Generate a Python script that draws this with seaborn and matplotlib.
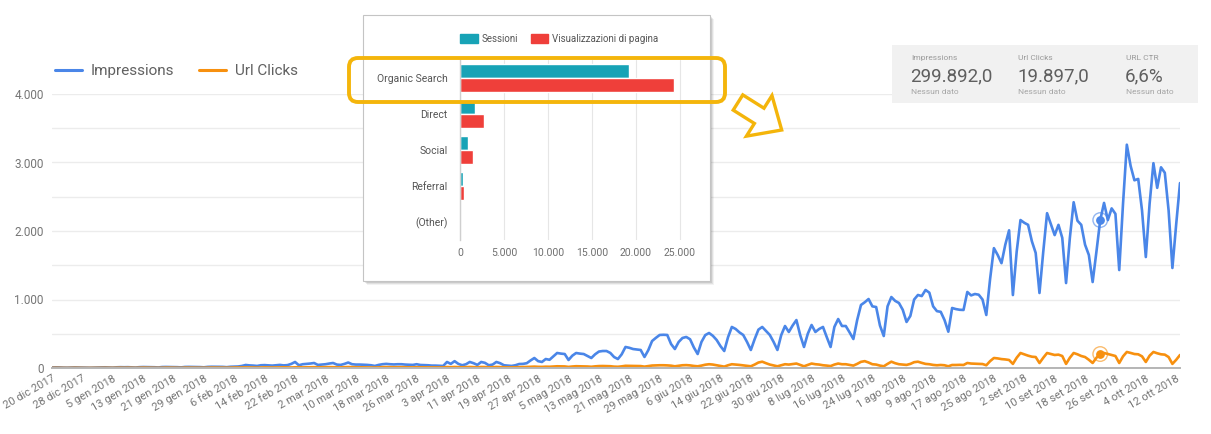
import numpy as np
import pandas as pd
import matplotlib
matplotlib.use("Agg")
import matplotlib.pyplot as plt
import seaborn as sns
from matplotlib.patches import Rectangle, FancyBboxPatch, FancyArrow, Patch
from matplotlib.lines import Line2D

# ---------------- data ----------------
imp_dec = [8, 10, 9, 6, 5, 7, 9, 8, 6, 5, 4, 6]
imp_jan = [7, 9, 10, 8, 6, 10, 12, 11, 12, 9, 7, 12, 14, 13, 12, 11, 8, 14, 15, 14, 13, 12, 9, 15, 16, 15, 14, 13, 10, 16, 18]
imp_feb = [18, 17, 16, 12, 18, 20, 22, 30, 44, 38, 35, 30, 40, 42, 38, 35, 40, 45, 38, 42, 60, 88, 40, 55, 60, 65, 73, 45]
imp_mar = [50, 55, 65, 73, 50, 45, 60, 80, 55, 50, 50, 48, 45, 40, 30, 45, 55, 60, 55, 52, 55, 55, 50, 48, 45, 55, 44, 42, 40, 35, 35]
imp_apr = [32, 30, 88, 60, 100, 60, 40, 55, 88, 70, 45, 88, 75, 40, 50, 88, 70, 40, 35, 30, 40, 58, 60, 70, 110, 146, 100, 88, 131, 120]
imp_may = [170, 219, 210, 204, 117, 180, 219, 210, 204, 175, 146, 200, 240, 248, 248, 220, 160, 131, 200, 307, 295, 277, 270, 263, 161, 260, 394, 440, 482, 485, 482]
imp_jun = [350, 277, 380, 438, 453, 420, 300, 204, 380, 480, 511, 470, 409, 320, 248, 450, 599, 570, 520, 482, 380, 263, 420, 560, 599, 540, 482, 380, 263, 480]
imp_jul = [613, 526, 620, 700, 480, 307, 500, 628, 526, 570, 599, 450, 307, 600, 715, 613, 613, 520, 423, 700, 920, 960, 1007, 900, 890, 620, 467, 900, 1036, 980, 949]
imp_aug = [850, 672, 760, 1000, 1066, 1050, 1139, 1100, 900, 830, 820, 700, 530, 876, 860, 850, 847, 1110, 1060, 1080, 1070, 1000, 774, 1300, 1750, 1650, 1530, 1800, 2010, 1065, 1700]
imp_sep = [2160, 2120, 2090, 1850, 1680, 1095, 1700, 2260, 2100, 1940, 2090, 1900, 1240, 1900, 2420, 2150, 2090, 1800, 1650, 1255, 1700, 2160, 2410, 2160, 2330, 2250, 1430, 2400, 3260, 2950]
imp_oct = [2740, 2760, 2300, 1620, 2400, 2990, 2630, 2930, 2850, 2300, 1460, 2100, 2700]

clk_dec = [2, 3, 2, 1, 1, 2, 3, 2, 1, 1, 1, 2]
clk_jan = [2, 3, 3, 2, 2, 3, 4, 3, 4, 3, 2, 4, 5, 4, 4, 3, 2, 4, 5, 5, 4, 3, 2, 5, 5, 4, 4, 3, 3, 5, 6]
clk_feb = [6, 5, 5, 4, 6, 7, 7, 8, 9, 8, 7, 6, 8, 9, 8, 7, 8, 9, 10, 9, 8, 10, 12, 9, 10, 11, 12, 10]
clk_mar = [11, 12, 13, 12, 10, 9, 12, 14, 12, 11, 10, 10, 9, 8, 7, 10, 12, 13, 12, 11, 12, 12, 11, 10, 9, 11, 10, 10, 9, 9, 8]
clk_apr = [8, 8, 14, 12, 15, 12, 10, 12, 15, 13, 10, 15, 14, 10, 11, 15, 13, 10, 9, 9, 11, 13, 14, 15, 18, 20, 17, 16, 19, 18]
clk_may = [22, 25, 24, 23, 16, 22, 26, 25, 24, 22, 18, 24, 28, 29, 28, 26, 20, 18, 24, 32, 31, 30, 29, 28, 20, 28, 36, 38, 40, 40, 38]
clk_jun = [34, 25, 32, 40, 42, 38, 30, 25, 35, 48, 55, 50, 40, 30, 20, 40, 55, 50, 45, 38, 30, 25, 50, 80, 92, 70, 50, 38, 25, 40]
clk_jul = [55, 50, 58, 65, 45, 25, 45, 65, 55, 50, 40, 35, 28, 50, 65, 55, 55, 45, 35, 60, 90, 100, 80, 55, 50, 35, 25, 60, 92, 70, 55]
clk_aug = [50, 45, 60, 85, 92, 75, 60, 55, 45, 40, 44, 40, 25, 44, 44, 46, 44, 73, 65, 62, 60, 58, 40, 100, 146, 140, 130, 125, 117, 60, 150]
clk_sep = [219, 200, 180, 165, 160, 73, 150, 219, 205, 190, 195, 175, 60, 150, 219, 200, 175, 160, 120, 73, 150, 204, 219, 205, 190, 175, 73, 170, 234, 220]
clk_oct = [204, 200, 170, 88, 180, 234, 215, 200, 195, 160, 60, 120, 190]

date_labels = ["20 dic 2017", "28 dic 2017", "5 gen 2018", "13 gen 2018", "21 gen 2018", "29 gen 2018",
               "6 feb 2018", "14 feb 2018", "22 feb 2018", "2 mar 2018", "10 mar 2018", "18 mar 2018",
               "26 mar 2018", "3 apr 2018", "11 apr 2018", "19 apr 2018", "27 apr 2018", "5 mag 2018",
               "13 mag 2018", "21 mag 2018", "29 mag 2018", "6 giu 2018", "14 giu 2018", "22 giu 2018",
               "30 giu 2018", "8 lug 2018", "16 lug 2018", "24 lug 2018", "1 ago 2018", "9 ago 2018",
               "17 ago 2018", "25 ago 2018", "2 set 2018", "10 set 2018", "18 set 2018", "26 set 2018",
               "4 ott 2018", "12 ott 2018"]
y_ticks = [0, 1000, 2000, 3000, 4000]
y_labels = ["0", "1.000", "2.000", "3.000", "4.000"]
hover_index = 276

channels = ["Organic Search", "Direct", "Social", "Referral", "(Other)"]
sessioni = [19200, 1700, 880, 300, 25]
visualizzazioni = [24300, 2750, 1500, 420, 45]
bar_ticks = [0, 5000, 10000, 15000, 20000, 25000]
bar_tick_labels = ["0", "5.000", "10.000", "15.000", "20.000", "25.000"]

score_titles = ["Impressions", "Url Clicks", "URL CTR"]
score_values = ["299.892,0", "19.897,0", "6,6%"]
score_sub = "Nessun dato"

impressions = imp_dec + imp_jan + imp_feb + imp_mar + imp_apr + imp_may + imp_jun + imp_jul + imp_aug + imp_sep + imp_oct
clicks = clk_dec + clk_jan + clk_feb + clk_mar + clk_apr + clk_may + clk_jun + clk_jul + clk_aug + clk_sep + clk_oct

BLUE = "#4a86e8"
ORANGE = "#f7900f"
TEAL = "#17a3b6"
RED = "#ef3f3a"
YELLOW = "#f4b50b"

# ---------------- figure ----------------
sns.set_theme(style="white")
plt.rcParams['font.family'] = ['Roboto', 'DejaVu Sans']

W, H = 1211, 434
fig = plt.figure(figsize=(W / 100, H / 100), dpi=100)
fig.patch.set_facecolor("white")


def fbox(x0, y0, x1, y1):
    return [x0 / W, 1 - y1 / H, (x1 - x0) / W, (y1 - y0) / H]


# main line chart
ax = fig.add_axes(fbox(52, 94, 1180, 368), zorder=1)
ax.patch.set_visible(False)
dates = pd.date_range("2017-12-20", periods=len(impressions), freq="D")
df = pd.DataFrame({"date": dates, "Impressions": impressions, "Url Clicks": clicks})
sns.lineplot(data=df, x="date", y="Impressions", color=BLUE, lw=1.9, ax=ax)
sns.lineplot(data=df, x="date", y="Url Clicks", color=ORANGE, lw=1.9, ax=ax)
ax.scatter([dates[hover_index]], [impressions[hover_index]], s=110, facecolor="none",
           edgecolor=BLUE, lw=1.0, alpha=0.6, zorder=5)
ax.scatter([dates[hover_index]], [impressions[hover_index]], s=28, color=BLUE, zorder=6)
ax.scatter([dates[hover_index]], [clicks[hover_index]], s=110, facecolor="none",
           edgecolor=ORANGE, lw=1.0, alpha=0.6, zorder=5)
ax.scatter([dates[hover_index]], [clicks[hover_index]], s=28, color=ORANGE, zorder=6)

ax.set_xlim(dates[0], dates[-1])
ax.set_ylim(0, 4000)
ax.set_yticks(y_ticks)
ax.set_yticklabels(y_labels, fontsize=8.5, color="#757575")
ax.set_yticks([500, 1500, 2500, 3500], minor=True)
ax.grid(axis="y", which="both", color="#ececec", lw=1.0)
ax.set_axisbelow(True)
ax.set_xticks(dates[::8])
ax.set_xticklabels(date_labels, rotation=30, ha="right", rotation_mode="anchor",
                   fontsize=8, color="#757575")
ax.tick_params(axis="both", length=0, pad=6)
ax.tick_params(axis="x", pad=4)
ax.set_xlabel("")
ax.set_ylabel("")
for s in ["top", "right", "left"]:
    ax.spines[s].set_visible(False)
ax.spines["bottom"].set_color("#b5b5b5")
ax.spines["bottom"].set_linewidth(1.4)

fig.legend(handles=[Line2D([], [], color=BLUE, lw=2.2), Line2D([], [], color=ORANGE, lw=2.2)],
           labels=["Impressions", "Url Clicks"], loc="center left",
           bbox_to_anchor=(55 / W, 1 - 71 / H), frameon=False, ncol=2, fontsize=11,
           handlelength=1.75, handletextpad=0.6, columnspacing=1.6, borderpad=0,
           borderaxespad=0, labelcolor="#616161")

# background overlay for inset card
ax_bg = fig.add_axes([0, 0, 1, 1], zorder=2)
ax_bg.set_xlim(0, W)
ax_bg.set_ylim(H, 0)
ax_bg.axis("off")
ax_bg.patch.set_visible(False)
for off, a in [(4, 0.05), (3, 0.07), (2, 0.09)]:
    ax_bg.add_patch(Rectangle((363 + off, 15 + off), 347, 266, color="black", alpha=a, lw=0))
ax_bg.add_patch(Rectangle((363, 15), 347, 266, facecolor="white", edgecolor="#c4c4c4", lw=0.8))

# inset bar chart
ax_in = fig.add_axes(fbox(460, 60, 695, 240), zorder=3)
ax_in.patch.set_visible(False)
dfb = pd.DataFrame({
    "channel": channels * 2,
    "value": sessioni + visualizzazioni,
    "metric": ["Sessioni"] * len(channels) + ["Visualizzazioni di pagina"] * len(channels),
})
sns.barplot(data=dfb, y="channel", x="value", hue="metric", orient="h",
            palette=[TEAL, RED], width=0.8, ax=ax_in, legend=False, saturation=1)
ax_in.set_xlim(0, 26700)
ax_in.set_xticks(bar_ticks)
ax_in.set_xticklabels(bar_tick_labels, fontsize=7.5, color="#6f6f6f")
ax_in.tick_params(axis="y", labelsize=7.5, labelcolor="#555555", length=0, pad=9)
ax_in.tick_params(axis="x", length=0, pad=6)
ax_in.grid(axis="x", color="#e6e6e6", lw=0.8)
ax_in.set_axisbelow(True)
ax_in.set_xlabel("")
ax_in.set_ylabel("")
for s in ["top", "right", "bottom"]:
    ax_in.spines[s].set_visible(False)
ax_in.spines["left"].set_color("#cfcfcf")
ax_in.spines["left"].set_linewidth(1.0)
fig.legend(handles=[Patch(color=TEAL), Patch(color=RED)],
           labels=["Sessioni", "Visualizzazioni di pagina"], loc="center left",
           bbox_to_anchor=(460 / W, 1 - 39 / H), frameon=False, ncol=2, fontsize=7,
           handlelength=1.8, handleheight=1.0, handletextpad=0.4, columnspacing=1.3,
           borderpad=0, borderaxespad=0, labelcolor="#555555")

# top overlay: highlight, arrow, scorecard
ax_top = fig.add_axes([0, 0, 1, 1], zorder=5)
ax_top.set_xlim(0, W)
ax_top.set_ylim(H, 0)
ax_top.axis("off")
ax_top.patch.set_visible(False)
ax_top.add_patch(FancyBboxPatch((349, 58), 376, 44, boxstyle="round,pad=0,rounding_size=9",
                                facecolor="none", edgecolor=YELLOW, lw=2.8))
ax_top.add_patch(FancyArrow(738, 102.5, 43.7, 27.5, width=18, head_width=48, head_length=26.6,
                            length_includes_head=True, facecolor="white", edgecolor=YELLOW,
                            lw=2.4, joinstyle="miter"))
ax_top.add_patch(Rectangle((892, 45), 306, 58, facecolor="#f1f1f1", edgecolor="none"))
for i, (t, v) in enumerate(zip(score_titles, score_values)):
    x0 = 911 + i * 107.5
    ax_top.text(x0, 58, t, fontsize=6, color="#9a9a9a", ha="left", va="center")
    ax_top.text(x0 - 1, 76, v, fontsize=13.5, color="#5f5f5f", ha="left", va="center")
    ax_top.text(x0, 92, score_sub, fontsize=6, color="#a5a5a5", ha="left", va="center")

fig.savefig("out.png", dpi=100, facecolor="white")
